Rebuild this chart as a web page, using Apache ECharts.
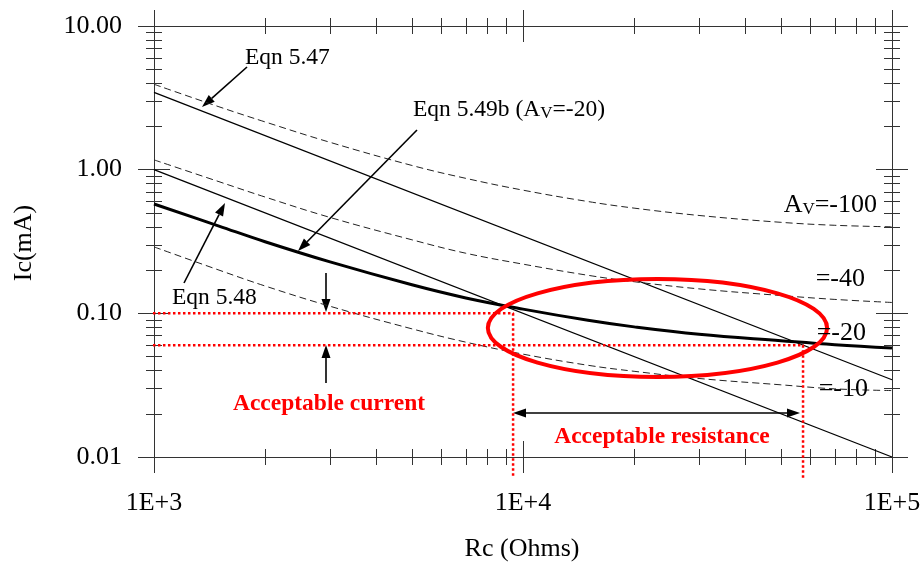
<!DOCTYPE html>
<html><head><meta charset="utf-8">
<script src="https://cdn.jsdelivr.net/npm/echarts@6/dist/echarts.min.js"></script>
<style>html,body{margin:0;padding:0;background:#fff}#c{width:924px;height:563px}</style>
</head><body><div id="c"></div>
<script>
// ---- data ----
const rcValues = [1000, 1500, 2000, 3000, 5000, 7000, 10000, 15000, 20000, 30000, 50000, 70000, 100000];
const icAv100 = [3.93, 2.74, 2.15, 1.55, 1.07, 0.87, 0.72, 0.60, 0.54, 0.48, 0.43, 0.41, 0.40];
const icAv40  = [1.17, 0.825, 0.645, 0.465, 0.325, 0.262, 0.22, 0.184, 0.166, 0.148, 0.133, 0.125, 0.119];
const icAv20  = [0.577, 0.405, 0.315, 0.228, 0.158, 0.128, 0.107, 0.0895, 0.0805, 0.0715, 0.0645, 0.0605, 0.0574];
const icAv10  = [0.29, 0.20, 0.155, 0.112, 0.078, 0.063, 0.052, 0.0435, 0.0395, 0.0352, 0.0318, 0.0298, 0.029];
const eqn547Rc = [1000, 100000];
const eqn547Ic = [3.45, 0.0345];
const eqn548Rc = [1000, 100000];
const eqn548Ic = [1.0, 0.01];
const currentLimits = [0.1, 0.06];          // acceptable current band (mA)
const resistanceLimits = [9400, 57400];     // acceptable resistance band (Ohms)
const guideStartRc = 963;                   // red guides start just left of the axis
const guideBottomIc = 0.00715;              // red guides run just below the axis
const ellipseRc = [8030, 23100, 66700];     // left, centre, right
const ellipseIc = [0.0361, 0.0804, 0.1735]; // bottom, centre, top
const xTickLabels = [1000, 10000, 100000];
const xMinorTicks = [2000, 3000, 4000, 5000, 6000, 7000, 8000, 9000, 20000, 30000, 40000, 50000, 60000, 70000, 80000, 90000];
const yTickLabels = [0.01, 0.1, 1, 10];
const yMinorTicks = [0.02, 0.03, 0.04, 0.05, 0.06, 0.07, 0.08, 0.09, 0.2, 0.3, 0.4, 0.5, 0.6, 0.7, 0.8, 0.9, 2, 3, 4, 5, 6, 7, 8, 9];

const FONT = '"Liberation Serif","Times New Roman",serif';
const AXC = '#333';
const zip = (xs, ys) => xs.map((x, i) => [x, ys[i]]);

function axis(kind, pos, extra) {
  const base = {
    type: 'log', logBase: 10, position: pos, gridIndex: 0,
    min: kind === 'x' ? 1000 : 0.01, max: kind === 'x' ? 100000 : 10,
    splitLine: { show: false }, minorTick: { show: false }, minorSplitLine: { show: false },
    axisLine: { show: false }, axisTick: { show: false }, axisLabel: { show: false }
  };
  return Object.assign(base, extra);
}
function tickAxis(kind, pos, major) {
  const len = major ? 32 : 16;
  return axis(kind, pos, {
    offset: len / 2,
    axisTick: { show: true, inside: true, length: len,
      customValues: kind === 'x' ? (major ? xTickLabels : xMinorTicks) : (major ? yTickLabels : yMinorTicks),
      lineStyle: { color: AXC, width: 1 } }
  });
}

const xAxes = [
  axis('x', 'bottom', {
    axisLine: { show: true, lineStyle: { color: AXC, width: 1 } },
    axisLabel: { show: true, customValues: xTickLabels, margin: 33, fontSize: 26, fontFamily: FONT, color: '#000',
      formatter: v => '1E+' + Math.round(Math.log10(v)) }
  }),
  tickAxis('x', 'bottom', true), tickAxis('x', 'bottom', false),
  axis('x', 'top', { axisLine: { show: true, lineStyle: { color: AXC, width: 1 } } }),
  tickAxis('x', 'top', true), tickAxis('x', 'top', false)
];
const yAxes = [
  axis('y', 'left', {
    axisLine: { show: true, lineStyle: { color: AXC, width: 1 } },
    axisLabel: { show: true, customValues: yTickLabels, margin: 32, fontSize: 26, fontFamily: FONT, color: '#000',
      formatter: v => Number(v).toFixed(2) }
  }),
  tickAxis('y', 'left', true), tickAxis('y', 'left', false),
  axis('y', 'right', { axisLine: { show: true, lineStyle: { color: AXC, width: 1 } } }),
  tickAxis('y', 'right', true), tickAxis('y', 'right', false)
];

function lineSeries(name, data, style, extra) {
  return Object.assign({ name, type: 'line', data, symbol: 'none', xAxisIndex: 0, yAxisIndex: 0,
    lineStyle: style, silent: true, animation: false }, extra || {});
}
const dash = { color: '#222', width: 1, type: [7, 4] };
const series = [
  lineSeries('Eqn 5.47', zip(eqn547Rc, eqn547Ic), { color: '#000', width: 1.3 }),
  lineSeries('Eqn 5.48', zip(eqn548Rc, eqn548Ic), { color: '#000', width: 1.3 }),
  lineSeries('Av=-100', zip(rcValues, icAv100), dash, { smooth: 0.4 }),
  lineSeries('Av=-40', zip(rcValues, icAv40), dash, { smooth: 0.4 }),
  lineSeries('Av=-10', zip(rcValues, icAv10), dash, { smooth: 0.4 }),
  lineSeries('Acceptable Ic high', [[guideStartRc, currentLimits[0]], [resistanceLimits[0], currentLimits[0]], [resistanceLimits[0], guideBottomIc]],
    { color: '#ff0000', width: 2.5, type: [2.5, 2.5] }, { clip: false }),
  lineSeries('Acceptable Ic low', [[guideStartRc, currentLimits[1]], [resistanceLimits[1], currentLimits[1]], [resistanceLimits[1], guideBottomIc]],
    { color: '#ff0000', width: 2.5, type: [2.5, 2.5] }, { clip: false }),
  lineSeries('Eqn 5.49b Av=-20', zip(rcValues, icAv20), { color: '#000', width: 3 }, { smooth: 0.4 })
];

function arrow(x1, y1, x2, y2, head, w) {
  head = head || 13; w = w || 4.5;
  const dx = x2 - x1, dy = y2 - y1, L = Math.hypot(dx, dy), ux = dx / L, uy = dy / L;
  const bx = x2 - ux * head, by = y2 - uy * head;
  return [
    { type: 'line', shape: { x1, y1, x2: bx, y2: by }, style: { stroke: '#000', lineWidth: 1.6 } },
    { type: 'polygon', shape: { points: [[x2, y2], [bx - uy * w, by + ux * w], [bx + uy * w, by - ux * w]] }, style: { fill: '#000' } }
  ];
}
function txt(x, y, text, opts) {
  return { type: 'text', x, y, z: 10, style: Object.assign({ text, fill: '#000', fontSize: 24, fontFamily: FONT,
    align: 'left', verticalAlign: 'middle',
    rich: { s: { fontSize: 17, fontFamily: FONT, verticalAlign: 'bottom', lineHeight: 17 } } }, opts || {}) };
}

const chart = echarts.init(document.getElementById('c'), null, { renderer: 'canvas' });
chart.setOption({
  backgroundColor: '#fff',
  animation: false,
  grid: { left: 154, top: 26, right: 32, bottom: 106, containLabel: false },
  xAxis: xAxes,
  yAxis: yAxes,
  series
});

const p = v => chart.convertToPixel({ seriesIndex: 0 }, v);
const cL = p([ellipseRc[0], ellipseIc[1]]), cR = p([ellipseRc[2], ellipseIc[1]]);
const cT = p([ellipseRc[1], ellipseIc[2]]), cB = p([ellipseRc[1], ellipseIc[0]]);

const graphics = [
  { type: 'ellipse', z: 5, shape: { cx: (cL[0] + cR[0]) / 2, cy: (cT[1] + cB[1]) / 2, rx: (cR[0] - cL[0]) / 2, ry: (cB[1] - cT[1]) / 2 },
    style: { fill: 'none', stroke: '#ff0000', lineWidth: 4 } },
  txt(245, 58, 'Eqn 5.47', { fontSize: 23.5 }),
  txt(413, 110, 'Eqn 5.49b (A{s|V}=-20)', { fontSize: 23.5 }),
  txt(172, 298, 'Eqn 5.48', { fontSize: 23.5 }),
  txt(877, 205, 'A{s|V}=-100', { fontSize: 26, align: 'right' }),
  txt(865, 279, '=-40', { fontSize: 26, align: 'right' }),
  txt(866, 333, '=-20', { fontSize: 26, align: 'right' }),
  txt(868, 389, '=-10', { fontSize: 26, align: 'right' }),
  txt(329, 404, 'Acceptable current', { fontSize: 23.5, fontWeight: 'bold', fill: '#ff0000', align: 'center' }),
  txt(662, 437, 'Acceptable resistance', { fontSize: 23.5, fontWeight: 'bold', fill: '#ff0000', align: 'center' }),
  txt(24, 243, 'Ic(mA)', { fontSize: 26, align: 'center' }),
  txt(522, 549, 'Rc (Ohms)', { fontSize: 26, align: 'center' })
];
// rotate y-axis title
graphics[graphics.length - 2].rotation = Math.PI / 2;
graphics.push(
  ...arrow(247, 67, 202, 107),
  ...arrow(417, 130, 298, 251),
  ...arrow(184, 283, 225, 203),
  ...arrow(326, 273, 326, 312),
  ...arrow(326, 383, 326, 345),
  ...arrow(656, 413, 513, 413),
  ...arrow(656, 413, 800, 413)
);
chart.setOption({ graphic: graphics });
</script></body></html>
